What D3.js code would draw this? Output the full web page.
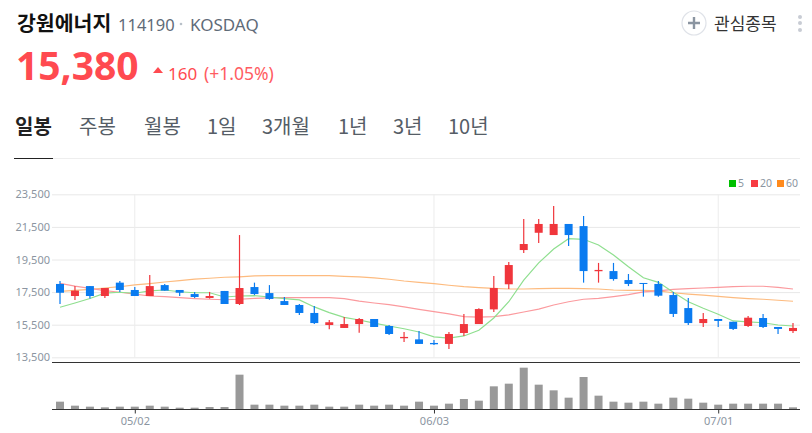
<!DOCTYPE html>
<html lang="ko">
<head>
<meta charset="utf-8">
<script src="https://cdn.jsdelivr.net/npm/d3@7.9.0/dist/d3.min.js"></script>
<style>
  html, body { margin: 0; padding: 0; background: #fff; overflow: hidden; }
  svg { display: block; font-family: "Noto Sans CJK KR", "Noto Sans", sans-serif; }
  .num { font-family: "Noto Sans", "Open Sans", sans-serif; }
  .axis text { font-family: "Noto Sans", sans-serif; font-size: 11px; fill: #8b95a1; }
</style>
</head>
<body>
<svg id="chart" width="812" height="433"></svg>
<script>
const tabs = ['일봉', '주봉', '월봉', '1일', '3개월', '1년', '3년', '10년'];
const priceTicks = [13500, 15500, 17500, 19500, 21500, 23500];
const dateTicks = [[5, '05/02'], [25, '06/03'], [44, '07/01']];
const legendItems = [['5', '#00c000'], ['20', '#f73b42'], ['60', '#ff8a1c']];

const open = [18000, 17260, 17870, 17260, 18080, 17630, 17260, 17930, 17630, 17380,
  17140, 17570, 16770, 17810, 17440, 16950, 16710, 16220, 15480, 15300,
  15540, 15850, 15420, 14670, 14600, 14380, 14320, 14990, 15540, 16440,
  17980, 20080, 21140, 21000, 21680, 21550, 18780, 18790, 18240, 18060,
  18000, 17320, 16520, 15600, 15850, 15680, 15420, 15910, 15360, 15110];
const close = [17460, 17590, 17260, 17750, 17630, 17260, 17870, 17590, 17460, 17200,
  17260, 16770, 17750, 17380, 17080, 16710, 16220, 15600, 15650, 15540,
  15850, 15360, 14930, 14750, 14320, 14300, 14930, 15540, 16460, 17750,
  19160, 20450, 21680, 21680, 21000, 18790, 18860, 18300, 18000, 18000,
  17280, 16160, 15600, 15850, 15730, 15240, 15930, 15360, 15240, 15300];
const high = [18180, 17870, 17870, 17750, 18180, 17810, 18550, 18000, 17630, 17510,
  17510, 17570, 21000, 18080, 17930, 17200, 16770, 16650, 15790, 15970,
  15910, 15850, 15480, 15050, 15110, 14560, 15050, 16160, 16510, 18490,
  19350, 21980, 21980, 22780, 21680, 22170, 19290, 19290, 18610, 18060,
  18180, 17510, 17140, 16220, 15850, 15680, 16030, 16160, 15360, 15600];
const low = [16770, 17020, 17100, 17140, 17510, 17260, 17260, 17590, 17260, 17140,
  17100, 16770, 16710, 17320, 17030, 16710, 16100, 15540, 15220, 15300,
  15010, 15360, 14870, 14440, 14320, 14250, 14010, 14810, 15540, 16280,
  17690, 19900, 20510, 21000, 20330, 18080, 18080, 18200, 17870, 17220,
  17220, 15970, 15480, 15360, 15360, 15170, 15360, 15300, 14930, 14990];
const ma5 = [16570, 16830, 17110, 17440, 17490, 17430, 17570, 17630, 17520, 17460,
  17460, 17200, 17260, 17280, 17200, 17100, 17020, 16590, 16240, 15950,
  15790, 15600, 15420, 15250, 15050, 14750, 14680, 14810, 15160, 15910,
  16910, 18240, 19290, 20140, 20780, 20740, 20390, 19780, 19060, 18380,
  18100, 17490, 16910, 16510, 16140, 15730, 15670, 15620, 15480, 15420];
const ma20 = [18040, 17870, 17730, 17590, 17490, 17370, 17260, 17220, 17160, 17100,
  17060, 17030, 17060, 17120, 17140, 17160, 17160, 17160, 17160, 17100,
  16950, 16830, 16730, 16590, 16440, 16300, 16160, 16000, 15970, 15990,
  16100, 16280, 16460, 16710, 16910, 17060, 17120, 17220, 17340, 17510,
  17570, 17670, 17710, 17750, 17790, 17830, 17860, 17860, 17790, 17690];
const ma60 = [17550, 17610, 17670, 17750, 17830, 17940, 18020, 18120, 18200, 18290,
  18350, 18410, 18440, 18490, 18510, 18510, 18510, 18510, 18510, 18470,
  18440, 18370, 18290, 18180, 18100, 18020, 17920, 17830, 17770, 17730,
  17690, 17690, 17710, 17730, 17730, 17710, 17690, 17630, 17610, 17610,
  17570, 17460, 17380, 17320, 17240, 17160, 17100, 17060, 17000, 16940];
const volume = [220, 100, 70, 50, 70, 70, 100, 70, 40, 40,
  60, 60, 1030, 130, 130, 100, 100, 130, 70, 70,
  130, 100, 130, 100, 220, 100, 160, 300, 250, 680,
  760, 1240, 730, 560, 340, 960, 400, 220, 190, 220,
  160, 340, 310, 190, 130, 160, 160, 160, 160, 50];

const svg = d3.select('#chart');

// header
svg.append('text').attr('x', 17).attr('y', 31).attr('font-size', 20.5).attr('font-weight', 700)
  .attr('fill', '#111').text('강원에너지');
svg.append('text').attr('class', 'num').attr('x', 118).attr('y', 31).attr('font-size', 16.5)
  .attr('fill', '#5f6b78').text('114190');
svg.append('circle').attr('cx', 181).attr('cy', 24).attr('r', 1.3).attr('fill', '#b8c0c8');
svg.append('text').attr('class', 'num').attr('x', 190).attr('y', 31).attr('font-size', 17)
  .attr('fill', '#5f6b78').text('KOSDAQ');

svg.append('text').attr('class', 'num').attr('x', 16).attr('y', 80).attr('font-size', 39)
  .attr('font-weight', 700).attr('fill', '#ff4a50').text('15,380');
svg.append('path').attr('d', 'M153,73L158,67L163,73Z').attr('fill', '#ff4a50');
svg.append('text').attr('class', 'num').attr('x', 168).attr('y', 80).attr('font-size', 17)
  .attr('fill', '#ff4a50').text('160');
svg.append('text').attr('class', 'num').attr('x', 204).attr('y', 80).attr('font-size', 17.5)
  .attr('fill', '#ff5c62').text('(+1.05%)');

// watchlist button
svg.append('circle').attr('cx', 694).attr('cy', 23).attr('r', 12).attr('fill', '#fff')
  .attr('stroke', '#dfe2e8').attr('stroke-width', 1.2);
svg.append('path').attr('d', 'M688,23H700M694,17V29').attr('stroke', '#8b95a1').attr('stroke-width', 2.4);
svg.append('text').attr('x', 714).attr('y', 30).attr('font-size', 17).attr('fill', '#333').text('관심종목');
svg.selectAll('.dot').data([17, 23, 30]).join('circle').attr('class', 'dot')
  .attr('cx', 800).attr('cy', d => d).attr('r', 2).attr('fill', '#c8ccd4');

// period tabs
const tabX = [15, 79, 144, 207, 262, 338, 393, 448];
svg.selectAll('.tab').data(tabs).join('text').attr('class', 'tab')
  .attr('x', (d, i) => tabX[i]).attr('y', 134).attr('font-size', 20)
  .attr('font-weight', (d, i) => i === 0 ? 700 : 400)
  .attr('fill', (d, i) => i === 0 ? '#222' : '#555d66').text(d => d);
svg.append('line').attr('x1', 14).attr('x2', 800).attr('y1', 158.5).attr('y2', 158.5).attr('stroke', '#eeeeee');
svg.append('line').attr('x1', 14).attr('x2', 53).attr('y1', 158.5).attr('y2', 158.5).attr('stroke', '#222');

// scales
const x = d3.scaleLinear().domain([0, 49]).range([60, 793]);
const y = d3.scaleLinear().domain([13500, 23500]).range([357.3, 194.3]);
const yVol = d3.scaleLinear().domain([0, 1410]).range([409, 362]);
const left = 52, right = 800;

// price axis and grid
const yAxis = svg.append('g').attr('class', 'axis').attr('transform', `translate(${left},0)`)
  .call(d3.axisLeft(y).tickValues(priceTicks).tickFormat(d3.format(',')).tickSize(0).tickPadding(2));
yAxis.select('.domain').remove();
yAxis.selectAll('.tick line').attr('x2', right - left).attr('stroke', '#e8e8e8');

// vertical date lines
svg.selectAll('.vline').data(dateTicks).join('line').attr('class', 'vline')
  .attr('x1', d => x(d[0])).attr('x2', d => x(d[0])).attr('y1', y(23500)).attr('y2', y(13500))
  .attr('stroke', '#ececec');

// legend
const legendX = [729, 751, 777];
legendItems.forEach(([label, color], i) => {
  svg.append('rect').attr('x', legendX[i]).attr('y', 180).attr('width', 7).attr('height', 7).attr('fill', color);
  svg.append('text').attr('class', 'num').attr('x', legendX[i] + 9).attr('y', 187).attr('font-size', 10.5)
    .attr('fill', '#8b95a1').text(label);
});

// moving averages
const line = d3.line().x((d, i) => x(i)).y(d => y(d));
[[ma60, '#fdbb7f'], [ma20, '#fb9a9e'], [ma5, '#8fdf8f']].forEach(([values, color]) => {
  svg.append('path').attr('d', line(values)).attr('fill', 'none').attr('stroke', color).attr('stroke-width', 1.2);
});

// candles
const RED = '#f0363c', BLUE = '#0a7bf0';
const candles = svg.selectAll('.candle').data(open).join('g').attr('class', 'candle')
  .attr('fill', (d, i) => close[i] >= open[i] ? RED : BLUE)
  .attr('stroke', (d, i) => close[i] >= open[i] ? RED : BLUE);
candles.append('line').attr('x1', (d, i) => x(i)).attr('x2', (d, i) => x(i))
  .attr('y1', (d, i) => y(high[i])).attr('y2', (d, i) => y(low[i])).attr('stroke-width', 1.2);
candles.append('rect').attr('x', (d, i) => x(i) - 4).attr('width', 8)
  .attr('y', (d, i) => y(Math.max(open[i], close[i])))
  .attr('height', (d, i) => Math.max(1, Math.abs(y(open[i]) - y(close[i]))))
  .attr('stroke', 'none');

// volume
svg.selectAll('.vol').data(volume).join('rect').attr('class', 'vol')
  .attr('x', (d, i) => x(i) - 4).attr('width', 8)
  .attr('y', d => yVol(d)).attr('height', d => yVol(0) - yVol(d)).attr('fill', '#999999');

svg.append('line').attr('x1', left).attr('x2', right).attr('y1', 362.5).attr('y2', 362.5).attr('stroke', '#333');
const xAxis = svg.append('g').attr('class', 'axis').attr('transform', 'translate(0,409.5)')
  .call(d3.axisBottom(x).tickValues(dateTicks.map(d => d[0]))
    .tickFormat(i => dateTicks.find(d => d[0] === i)[1]).tickSize(4).tickPadding(4));
xAxis.select('.domain').attr('d', `M${left},0H${right}`).attr('stroke', '#333');
xAxis.selectAll('.tick line').attr('stroke', '#333');
</script>
</body>
</html>
